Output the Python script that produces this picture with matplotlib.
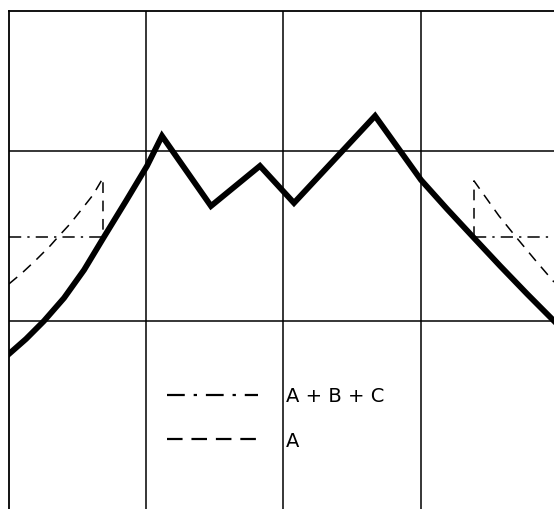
import matplotlib.pyplot as plt
from matplotlib.lines import Line2D

# data in grid units (one grid cell = 1 unit)
solid_x = [0.0, 0.124, 0.255, 0.401, 0.547, 0.692, 0.853, 1.006, 1.115, 1.472, 1.829, 2.077,
           2.668, 3.003, 3.192, 3.382, 3.579, 3.776, 3.972]
solid_y = [-0.194, -0.106, 0.0, 0.135, 0.300, 0.494, 0.706, 0.912, 1.088, 0.676, 0.912, 0.694,
           1.206, 0.829, 0.659, 0.494, 0.324, 0.159, 0.0]

a_left_x = [0.0, 0.095, 0.197, 0.299, 0.357, 0.445, 0.532, 0.612, 0.685, 0.685]
a_left_y = [0.218, 0.282, 0.359, 0.441, 0.494, 0.571, 0.659, 0.741, 0.841, 0.494]
a_right_x = [3.389, 3.389, 3.477, 3.571, 3.695, 3.834, 3.972]
a_right_y = [0.494, 0.824, 0.724, 0.618, 0.494, 0.359, 0.229]

abc_left_x = [0.0, 0.685]
abc_right_x = [3.389, 3.972]
abc_level = 0.494

labels = ["A + B + C", "A"]

W, H = 554, 510
fig = plt.figure(figsize=(W / 100, H / 100), dpi=100)
ax = fig.add_axes([9 / W, 0, 545 / W, 498.5 / H])
ax.set_xlim(0, 3.972)
ax.set_ylim(-1.106, 1.826)

for x in [1, 2, 3]:
    ax.axvline(x, color="black", lw=1.1, zorder=1)
for y in [0, 1]:
    ax.axhline(y, color="black", lw=1.1, zorder=1)

ax.spines['right'].set_visible(False)
ax.spines['bottom'].set_visible(False)
ax.spines['left'].set_linewidth(1.3)
ax.spines['top'].set_linewidth(1.3)
ax.set_xticks([])
ax.set_yticks([])

dash = (0, (7, 5))
dashdot = (0, (8, 4, 1.5, 4))

ax.plot(solid_x, solid_y, color="black", lw=4.2, solid_joinstyle="miter", zorder=3)
ax.plot(a_left_x, a_left_y, color="black", lw=1.1, linestyle=dash, zorder=2)
ax.plot(a_right_x, a_right_y, color="black", lw=1.1, linestyle=dash, zorder=2)
ax.plot(abc_left_x, [abc_level, abc_level], color="black", lw=1.1, linestyle=dashdot, zorder=2)
ax.plot(abc_right_x, [abc_level, abc_level], color="black", lw=1.1, linestyle=dashdot, zorder=2)

handles = [Line2D([], [], color="black", lw=1.6, linestyle=dashdot),
           Line2D([], [], color="black", lw=1.6, linestyle=(0, (7, 4)))]
fig.legend(handles, labels, loc="center left", bbox_to_anchor=(167 / W, (H - 419) / H),
           bbox_transform=fig.transFigure, frameon=False, fontsize=14,
           handlelength=4.7, handletextpad=1.4, labelspacing=1.3,
           borderpad=0, borderaxespad=0)

fig.savefig("out.png", dpi=100)
